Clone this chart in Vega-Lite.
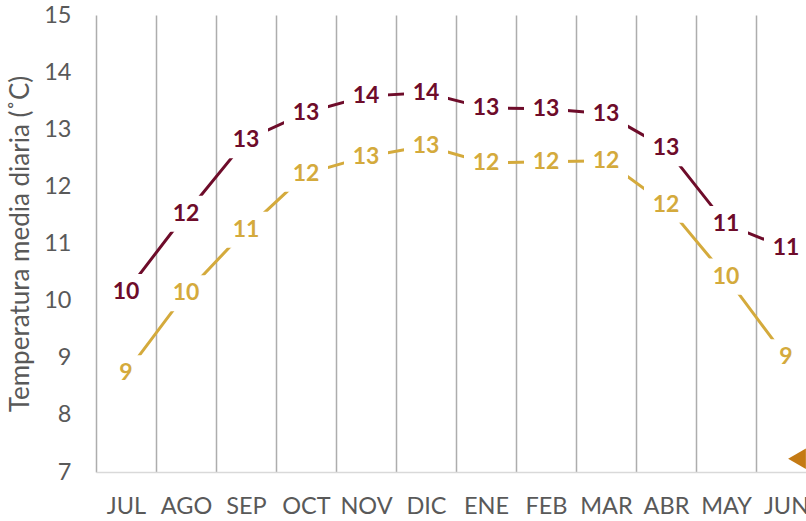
{
  "$schema": "https://vega.github.io/schema/vega-lite/v6.json",
  "autosize": "none",
  "width": 720,
  "height": 457,
  "padding": {"left": 96, "top": 15, "right": 0, "bottom": 49},
  "background": "white",
  "config": {"view": {"stroke": null}, "font": "Lato"},
  "data": {"values": [
    {"mes": "JUL", "serie": "Alta", "valor": 10.15},
    {"mes": "AGO", "serie": "Alta", "valor": 11.52},
    {"mes": "SEP", "serie": "Alta", "valor": 12.81},
    {"mes": "OCT", "serie": "Alta", "valor": 13.29},
    {"mes": "NOV", "serie": "Alta", "valor": 13.58},
    {"mes": "DIC", "serie": "Alta", "valor": 13.64},
    {"mes": "ENE", "serie": "Alta", "valor": 13.37},
    {"mes": "FEB", "serie": "Alta", "valor": 13.36},
    {"mes": "MAR", "serie": "Alta", "valor": 13.27},
    {"mes": "ABR", "serie": "Alta", "valor": 12.67},
    {"mes": "MAY", "serie": "Alta", "valor": 11.34},
    {"mes": "JUN", "serie": "Alta", "valor": 10.92},
    {"mes": "JUL", "serie": "Baja", "valor": 8.73},
    {"mes": "AGO", "serie": "Baja", "valor": 10.13},
    {"mes": "SEP", "serie": "Baja", "valor": 11.24},
    {"mes": "OCT", "serie": "Baja", "valor": 12.22},
    {"mes": "NOV", "serie": "Baja", "valor": 12.52},
    {"mes": "DIC", "serie": "Baja", "valor": 12.71},
    {"mes": "ENE", "serie": "Baja", "valor": 12.41},
    {"mes": "FEB", "serie": "Baja", "valor": 12.43},
    {"mes": "MAR", "serie": "Baja", "valor": 12.45},
    {"mes": "ABR", "serie": "Baja", "valor": 11.68},
    {"mes": "MAY", "serie": "Baja", "valor": 10.42},
    {"mes": "JUN", "serie": "Baja", "valor": 9.01}
  ]},
  "encoding": {
    "x": {
      "field": "mes", "type": "nominal",
      "sort": ["JUL","AGO","SEP","OCT","NOV","DIC","ENE","FEB","MAR","ABR","MAY","JUN"],
      "scale": {"type": "band", "paddingInner": 0, "paddingOuter": 0},
      "axis": {
        "title": null, "labelAngle": 0, "tickBand": "extent",
        "grid": true, "gridColor": "#ADADAD", "gridWidth": 1.5,
        "ticks": false, "domainColor": "#D9D9D9", "domainWidth": 1.5,
        "labelFontSize": 23.5, "labelColor": "#595959", "labelPadding": 22, "labelFont": "Lato"
      }
    },
    "y": {
      "field": "valor", "type": "quantitative",
      "scale": {"domain": [7, 15], "nice": false, "zero": false},
      "axis": {
        "title": "Temperatura media diaria (˚C)", "values": [7,8,9,10,11,12,13,14,15],
        "grid": false, "domain": false, "ticks": false,
        "labelFontSize": 23.5, "labelColor": "#595959", "labelPadding": 25,
        "titleFontSize": 26, "titleFontWeight": "normal", "titleColor": "#595959", "titlePadding": 10, "titleFont": "Lato"
      }
    }
  },
  "layer": [
    {
      "mark": {"type": "line", "strokeWidth": 3},
      "encoding": {
        "color": {"field": "serie", "type": "nominal", "scale": {"domain": ["Alta","Baja"], "range": ["#6E0C2A","#D4AA3C"]}, "legend": null}
      }
    },
    {
      "mark": {"type": "point", "shape": "M-1,-0.82L1,-0.82L1,0.82L-1,0.82Z", "filled": true, "fill": "white", "strokeWidth": 0, "opacity": 1, "size": 1936},
      "encoding": {"detail": {"field": "serie"}}
    },
    {
      "mark": {"type": "text", "fontWeight": "bold", "fontSize": 23, "baseline": "middle", "align": "center"},
      "encoding": {
        "text": {"field": "valor", "type": "quantitative", "format": ".0f"},
        "color": {"field": "serie", "type": "nominal", "scale": {"domain": ["Alta","Baja"], "range": ["#6E0C2A","#D4AA3C"]}, "legend": null}
      }
    },
    {
      "data": {"values": [{"mes": "JUN", "valor": 7.23}]},
      "mark": {"type": "point", "shape": "triangle-left", "filled": true, "color": "#C47A14", "opacity": 1, "size": 420, "xOffset": 11}
    }
  ]
}
